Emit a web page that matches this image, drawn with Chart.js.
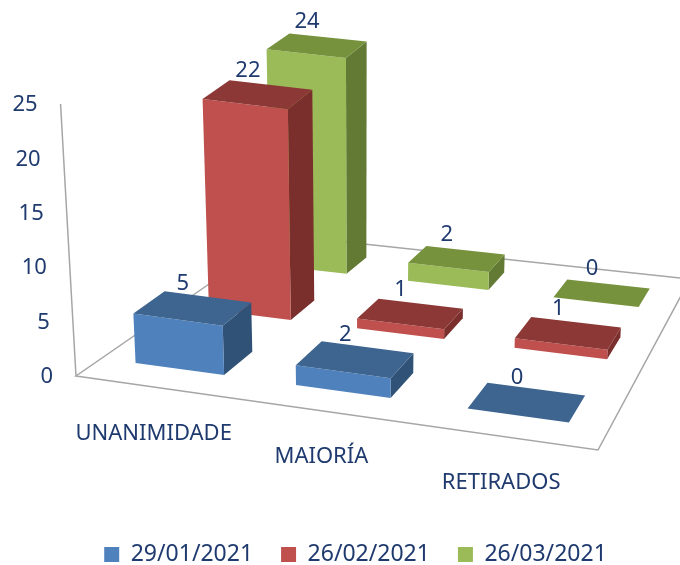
<!DOCTYPE html>
<html lang="pt">
<head>
    <meta charset="UTF-8">
    <title>Votações</title>
    <script src="https://cdn.jsdelivr.net/npm/chart.js@4"></script>
    <style>
        body { margin: 0; background: #fff; }
    </style>
</head>
<body>
    <canvas id="chart" width="680" height="565"></canvas>

    <script>
        const categories = ['UNANIMIDADE', 'MAIORÍA', 'RETIRADOS'];
        const seriesNames = ['29/01/2021', '26/02/2021', '26/03/2021'];
        const janValues = [5, 2, 0];
        const febValues = [22, 1, 1];
        const marValues = [24, 2, 0];
        const seriesValues = [janValues, febValues, marValues];

        const frontColors = ['#4f81bd', '#c0504d', '#9bbb59'];
        const topColors = ['#3d6590', '#8c3836', '#76923c'];
        const sideColors = ['#315277', '#7a2f2d', '#627a34'];
        const textColor = '#1f3a6e';
        const fontFamily = '"Noto Sans", sans-serif';

        // floor of the 3d box, in canvas pixels: front left, front right, back right, back left
        const floor = { a: [76, 376], b: [598, 450], c: [690, 279], d: [280, 235] };
        const barWidth = 0.56;
        const barDepth = 0.4;

        // homography from the unit square (u along categories, v along depth) to the floor
        function makeFloorProjection(f) {
            const dx1 = f.b[0] - f.c[0], dx2 = f.d[0] - f.c[0], sx = f.a[0] - f.b[0] + f.c[0] - f.d[0];
            const dy1 = f.b[1] - f.c[1], dy2 = f.d[1] - f.c[1], sy = f.a[1] - f.b[1] + f.c[1] - f.d[1];
            const den = dx1 * dy2 - dx2 * dy1;
            const g = (sx * dy2 - dx2 * sy) / den;
            const h = (dx1 * sy - sx * dy1) / den;
            return (u, v) => {
                const w = g * u + h * v + 1;
                return [
                    ((f.b[0] - f.a[0] + g * f.b[0]) * u + (f.d[0] - f.a[0] + h * f.d[0]) * v + f.a[0]) / w,
                    ((f.b[1] - f.a[1] + g * f.b[1]) * u + (f.d[1] - f.a[1] + h * f.d[1]) * v + f.a[1]) / w
                ];
            };
        }
        const floorPoint = makeFloorProjection(floor);

        // lift a floor point, verticals lean slightly towards a point below the chart
        function lift(p, height) {
            return [p[0] + (p[0] - 360) * 0.0002 * height, p[1] - height];
        }

        function polygon(ctx, points, color) {
            ctx.beginPath();
            points.forEach((p, i) => i ? ctx.lineTo(p[0], p[1]) : ctx.moveTo(p[0], p[1]));
            ctx.closePath();
            ctx.fillStyle = color;
            ctx.fill();
        }

        function barCell(chart, seriesIndex, catIndex) {
            const x = chart.scales.x;
            const y = chart.scales.y;
            const value = chart.data.datasets[seriesIndex].data[catIndex];
            const u = (x.getPixelForValue(catIndex) - x.left) / x.width;
            const v = (seriesIndex + 0.5) / seriesNames.length;
            const du = barWidth / categories.length / 2;
            const dv = barDepth / seriesNames.length / 2;
            const height = (y.getPixelForValue(0) - y.getPixelForValue(value)) * (0.91 - 0.12 * v * v);
            return { value, u, v, du, dv, height };
        }

        const box3d = {
            id: 'box3d',
            beforeDatasetsDraw(chart) {
                const ctx = chart.ctx;
                const y = chart.scales.y;
                ctx.save();
                ctx.strokeStyle = '#a6a6a6';
                ctx.lineWidth = 1.5;
                ctx.beginPath();
                ctx.moveTo(floor.d[0], floor.d[1]);
                ctx.lineTo(floor.a[0], floor.a[1]);
                ctx.lineTo(floor.b[0], floor.b[1]);
                ctx.lineTo(floor.c[0], floor.c[1]);
                ctx.lineTo(floor.d[0], floor.d[1]);
                const wallTop = lift(floor.a, y.getPixelForValue(0) - y.getPixelForValue(y.max));
                ctx.moveTo(floor.a[0], floor.a[1]);
                ctx.lineTo(wallTop[0], wallTop[1]);
                ctx.stroke();

                // value axis labels follow the tilted wall
                ctx.font = '22px ' + fontFamily;
                ctx.fillStyle = textColor;
                ctx.textAlign = 'right';
                ctx.textBaseline = 'middle';
                y.ticks.forEach(t => {
                    const p = lift(floor.a, y.getPixelForValue(0) - y.getPixelForValue(t.value));
                    ctx.fillText(t.label, p[0] - 23, p[1] + 1);
                });

                // category labels step down along the front edge
                ctx.textAlign = 'center';
                categories.forEach((label, i) => {
                    const x = chart.scales.x;
                    const p = floorPoint((x.getPixelForValue(i) - x.left) / x.width, 0);
                    ctx.fillText(label, p[0] - 2, p[1] + 46);
                });
                ctx.restore();
            },
            beforeDatasetDraw(chart, args) {
                const ctx = chart.ctx;
                const j = args.index;
                categories.forEach((_, i) => {
                    const c = barCell(chart, j, i);
                    const fl = floorPoint(c.u - c.du, c.v - c.dv);
                    const fr = floorPoint(c.u + c.du, c.v - c.dv);
                    const br = floorPoint(c.u + c.du, c.v + c.dv);
                    const bl = floorPoint(c.u - c.du, c.v + c.dv);
                    const tfl = lift(fl, c.height), tfr = lift(fr, c.height);
                    const tbr = lift(br, c.height), tbl = lift(bl, c.height);
                    polygon(ctx, [fr, br, tbr, tfr], sideColors[j]);
                    polygon(ctx, [fl, fr, tfr, tfl], frontColors[j]);
                    polygon(ctx, [tfl, tfr, tbr, tbl], topColors[j]);
                });
                return false;
            },
            afterDatasetsDraw(chart) {
                const ctx = chart.ctx;
                ctx.save();
                ctx.font = '22px ' + fontFamily;
                ctx.fillStyle = textColor;
                ctx.textAlign = 'center';
                ctx.textBaseline = 'middle';
                seriesNames.forEach((_, j) => {
                    categories.forEach((_, i) => {
                        const c = barCell(chart, j, i);
                        const p = lift(floorPoint(c.u, c.v), c.height);
                        ctx.fillText(String(c.value), p[0] - 10, p[1] - 24);
                    });
                });
                ctx.restore();
            }
        };

        new Chart(document.getElementById('chart'), {
            type: 'bar',
            data: {
                labels: categories,
                datasets: seriesNames.map((name, j) => ({
                    label: name,
                    data: seriesValues[j],
                    backgroundColor: frontColors[j]
                }))
            },
            plugins: [box3d],
            options: {
                responsive: false,
                animation: false,
                layout: { padding: { top: 104, left: 31, right: 0, bottom: -11 } },
                scales: {
                    x: {
                        grid: { display: false },
                        border: { display: false },
                        ticks: { display: false },
                        afterFit: s => { s.height = 139; }
                    },
                    y: {
                        display: false,
                        min: 0,
                        max: 25,
                        ticks: { stepSize: 5 }
                    }
                },
                plugins: {
                    tooltip: { enabled: false },
                    legend: {
                        position: 'bottom',
                        labels: {
                            boxWidth: 15,
                            boxHeight: 15,
                            padding: 28,
                            color: textColor,
                            font: { family: fontFamily, size: 23 }
                        }
                    }
                }
            }
        });
    </script>
</body>
</html>
